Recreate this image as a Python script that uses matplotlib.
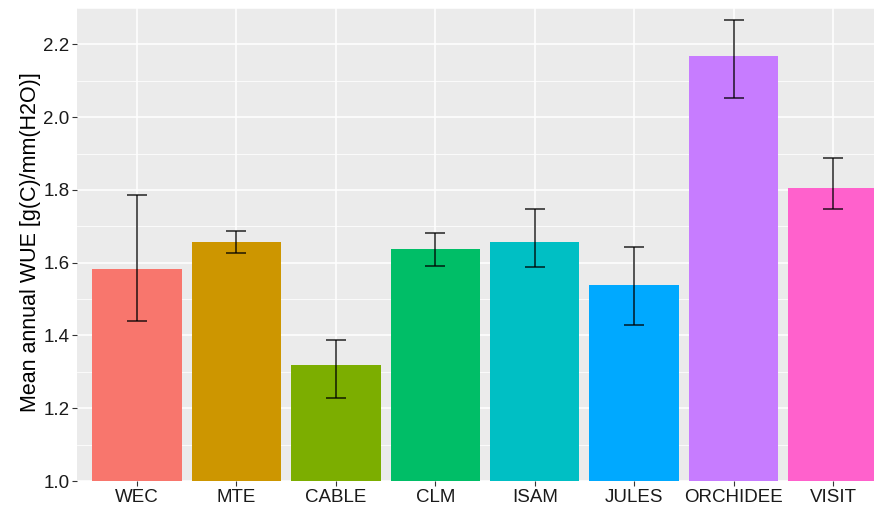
import matplotlib
matplotlib.use("Agg")
import matplotlib.pyplot as plt
from matplotlib.ticker import MultipleLocator

models = ["WEC", "MTE", "CABLE", "CLM", "ISAM", "JULES", "ORCHIDEE", "VISIT"]
wue_mean = [1.584, 1.656, 1.319, 1.637, 1.658, 1.539, 2.168, 1.806]
err_low = [1.440, 1.628, 1.228, 1.591, 1.588, 1.430, 2.054, 1.747]
err_high = [1.785, 1.687, 1.387, 1.682, 1.747, 1.644, 2.267, 1.888]
colors = ["#F8766D", "#CD9600", "#7CAE00", "#00BE67", "#00BFC4", "#00A9FF", "#C77CFF", "#FF61CC"]
yticks = [1.0, 1.2, 1.4, 1.6, 1.8, 2.0, 2.2]

plt.rcParams['font.family'] = ['Liberation Sans', 'DejaVu Sans']

fig = plt.figure(figsize=(8.74, 5.05), dpi=100)
ax = fig.add_axes([77.3 / 874, 24 / 505, (892.7 - 77.3) / 874, (481 - 8) / 505])
ax.set_facecolor("#EBEBEB")

x = list(range(1, len(models) + 1))
bottom = 1.0
ax.bar(x, [v - bottom for v in wue_mean], bottom=bottom, width=0.9, color=colors, zorder=3)
yerr = [[m - lo for m, lo in zip(wue_mean, err_low)], [hi - m for m, hi in zip(wue_mean, err_high)]]
ax.errorbar(x, wue_mean, yerr=yerr, fmt="none", ecolor="black", elinewidth=1.1,
            capsize=7.2, capthick=1.1, alpha=0.85, zorder=4)

ax.set_xlim(0.4, 8.6)
ax.set_ylim(1.0, 2.3)
ax.set_xticks(x)
ax.set_xticklabels(models)
ax.set_yticks(yticks)
ax.set_yticklabels([f"{t:.1f}" for t in yticks])
ax.yaxis.set_minor_locator(MultipleLocator(0.1))
ax.grid(which="major", color="white", linewidth=1.1, zorder=0)
ax.grid(which="minor", axis="y", color="white", linewidth=0.55, zorder=0)
ax.set_axisbelow(True)
for s in ax.spines.values():
    s.set_visible(False)
ax.tick_params(which="major", length=3.5, width=0.8, color="#333333", labelsize=13.5,
               labelcolor="#1a1a1a", pad=2)
ax.tick_params(which="minor", length=0)
ax.set_ylabel("Mean annual WUE [g(C)/mm(H2O)]", fontsize=15.5, color="black")
ax.yaxis.set_label_coords(-0.044, 0.505)

fig.savefig("out.png", dpi=100)
